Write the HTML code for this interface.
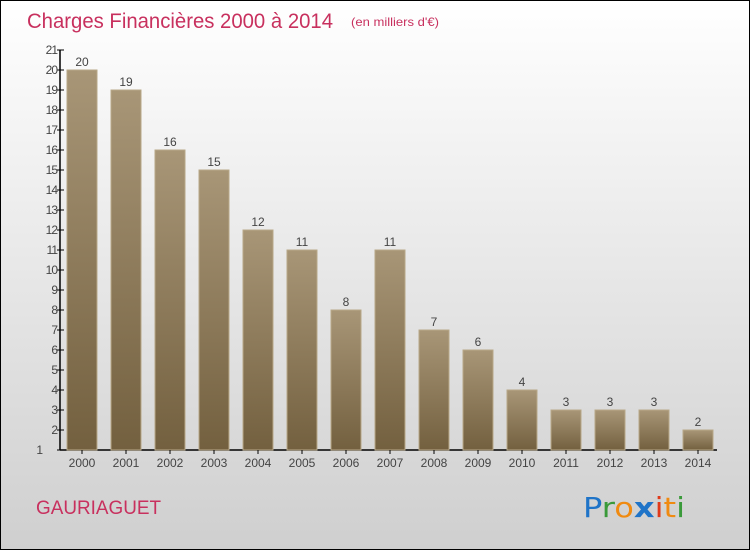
<!DOCTYPE html>
<html><head><meta charset="utf-8"><style>
body{margin:0}
#c{width:748px;height:548px;border:1px solid #000;background:linear-gradient(#ffffff,#cfcfcf);position:relative;font-family:"Liberation Sans",sans-serif;overflow:hidden}
</style></head><body>
<div id="c">
<svg width="748" height="548" id="s">
<defs><linearGradient id="g" x1="0" y1="0" x2="0" y2="1"><stop offset="0" stop-color="#a89677"/><stop offset="1" stop-color="#73603f"/></linearGradient></defs>
<text x="26" y="27" font-size="21" fill="#c8305e" textLength="306" lengthAdjust="spacingAndGlyphs">Charges Financières 2000 à 2014</text>
<text x="350" y="25" font-size="12" fill="#c8305e" textLength="88" lengthAdjust="spacingAndGlyphs">(en milliers d'€)</text>
<text x="35" y="513" font-size="19" fill="#c8305e" textLength="125" lengthAdjust="spacingAndGlyphs">GAURIAGUET</text>
<g font-size="28" font-family="'DejaVu Sans',sans-serif">
<text x="582" y="516" textLength="102" lengthAdjust="spacingAndGlyphs"><tspan fill="#1f74c8">P</tspan><tspan fill="#3a9a3a">r</tspan><tspan fill="#f08a10">o</tspan><tspan fill="#1f74c8" font-weight="bold">x</tspan><tspan fill="#e03a1a">i</tspan><tspan fill="#f08a10">t</tspan><tspan fill="#3a9a3a">i</tspan></text></g>
<g id="plot"></g>
</svg></div>
<script>
const categories=["2000","2001","2002","2003","2004","2005","2006","2007","2008","2009","2010","2011","2012","2013","2014"];
const values=[20,19,16,15,12,11,8,11,7,6,4,3,3,3,2];
const yTicks=[1,2,3,4,5,6,7,8,9,10,11,12,13,14,15,16,17,18,19,20,21];
const NS="http://www.w3.org/2000/svg";
const p=document.getElementById('plot');
const y=v=>449-(v-1)*20;
const x=i=>81+i*44;
function mk(t,a,txt){const e=document.createElementNS(NS,t);for(const k in a)e.setAttribute(k,a[k]);if(txt!==undefined)e.textContent=txt;p.appendChild(e);return e;}
let e;
e=mk('line',{x1:59,y1:y(21),x2:59,y2:y(1),stroke:'#000','stroke-width':1.5});


e=mk('line',{x1:59,y1:y(1),x2:716,y2:y(1),stroke:'#000','stroke-width':1.5});


yTicks.forEach(v=>{
 e=mk('line',{x1:56,y1:y(v),x2:63,y2:y(v),stroke:'#000'});
 
 
 e=mk('text',{x:v==1?41:56,y:y(v)+4,'font-size':12,fill:'#444','text-anchor':'end','letter-spacing':'-1'},v);
 
 
});
values.forEach((v,i)=>{
 e=mk('rect',{x:x(i)-15,y:y(v),width:30,height:y(1)-y(v),fill:'url(#g)',stroke:'#b8a888','stroke-width':1});
 
 
 e=mk('text',{x:x(i),y:y(v)-4,'font-size':12,fill:'#444','text-anchor':'middle'},v);
 
 
 e=mk('line',{x1:x(i),y1:y(1),x2:x(i),y2:y(1)+4,stroke:'#000'});
 
 
 e=mk('text',{x:x(i),y:466,'font-size':12,fill:'#444','text-anchor':'middle'},categories[i]);
 
 
});
</script>
</body></html>
